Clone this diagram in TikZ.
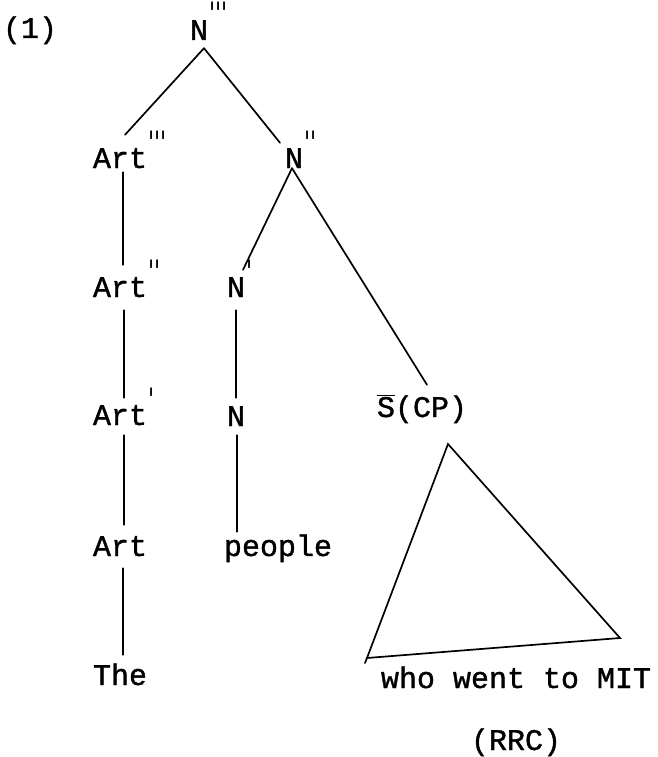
\documentclass[tikz,border=0pt]{standalone}
\usepackage{fontspec}
\usepackage{graphicx}
\newfontfamily\tw[FakeBold=1.2]{Liberation Mono}
\newfontfamily\djv{DejaVu Sans}
\newcommand{\tk}{\textquotesingle}
\newcommand{\prm}[1]{\rlap{\hspace{1pt}\raisebox{15pt}{\djv\fontsize{22}{22}\selectfont\scalebox{1}[1.4]{#1}}}}
\begin{document}
\begin{tikzpicture}[x=1pt,y=-1pt,
  lab/.style={font=\tw\fontsize{30}{30}\selectfont, inner sep=0pt, text height=17pt, text depth=0pt, anchor=base},
  edge/.style={line width=1.7pt, line cap=round}]
\useasboundingbox (0,0) rectangle (657,757);
\node[lab] (ex) at (30,38) {(1)};
\node[lab] (n3) at (199,40) {N\prm{\tk\tk\tk}};
\node[lab] (art3) at (120,168) {Art\prm{\tk\tk\tk}};
\node[lab] (n2) at (294,168) {N\prm{\tk\tk}};
\node[lab] (art2) at (120,297) {Art\prm{\tk\tk}};
\node[lab] (n1) at (236,297) {N\prm{\tk}};
\node[lab] (art1) at (120,425) {Art\prm{\tk}};
\node[lab] (n0) at (236,426) {N};
\node[lab] (scp) at (422,417) {$\overline{\mbox{\tw S}}$(CP)};
\node[lab] (art0) at (120,556) {Art};
\node[lab] (people) at (278,556) {people};
\node[lab] (the) at (120,685) {The};
\node[lab] (who) at (516,688) {who went to MIT};
\node[lab] (rrc) at (516,750) {(RRC)};
\coordinate (apex) at (448,444);
\coordinate (tl) at (367,658);
\coordinate (tr) at (620,638);
\draw[edge] ([shift={(5,8)}]n3.south) -- ([shift={(5,-16)}]art3.north);
\draw[edge] ([shift={(5,8)}]n3.south) -- ([shift={(-14,-8)}]n2.north);
\draw[edge] ([shift={(3,4)}]art3.south) -- ([shift={(3,-15)}]art2.north);
\draw[edge] ([shift={(4,13)}]art2.south) -- ([shift={(4,-10)}]art1.north);
\draw[edge] ([shift={(4,10)}]art1.south) -- ([shift={(4,-14)}]art0.north);
\draw[edge] ([shift={(3,12)}]art0.south) -- ([shift={(3,-13)}]the.north);
\draw[edge] ([shift={(-2,0)}]n2.south) -- ([shift={(7,-10)}]n1.north);
\draw[edge] ([shift={(-2,0)}]n2.south) -- ([shift={(5,-15)}]scp.north);
\draw[edge] ([shift={(0,13)}]n1.south) -- ([shift={(0,-11)}]n0.north);
\draw[edge] ([shift={(1,9)}]n0.south) -- ([shift={(-41,-7)}]people.north);
\draw[edge] (apex) -- (tr) -- (tl) -- cycle;
\draw[edge] (tl) -- ++(-2,5);
\end{tikzpicture}
\end{document}
